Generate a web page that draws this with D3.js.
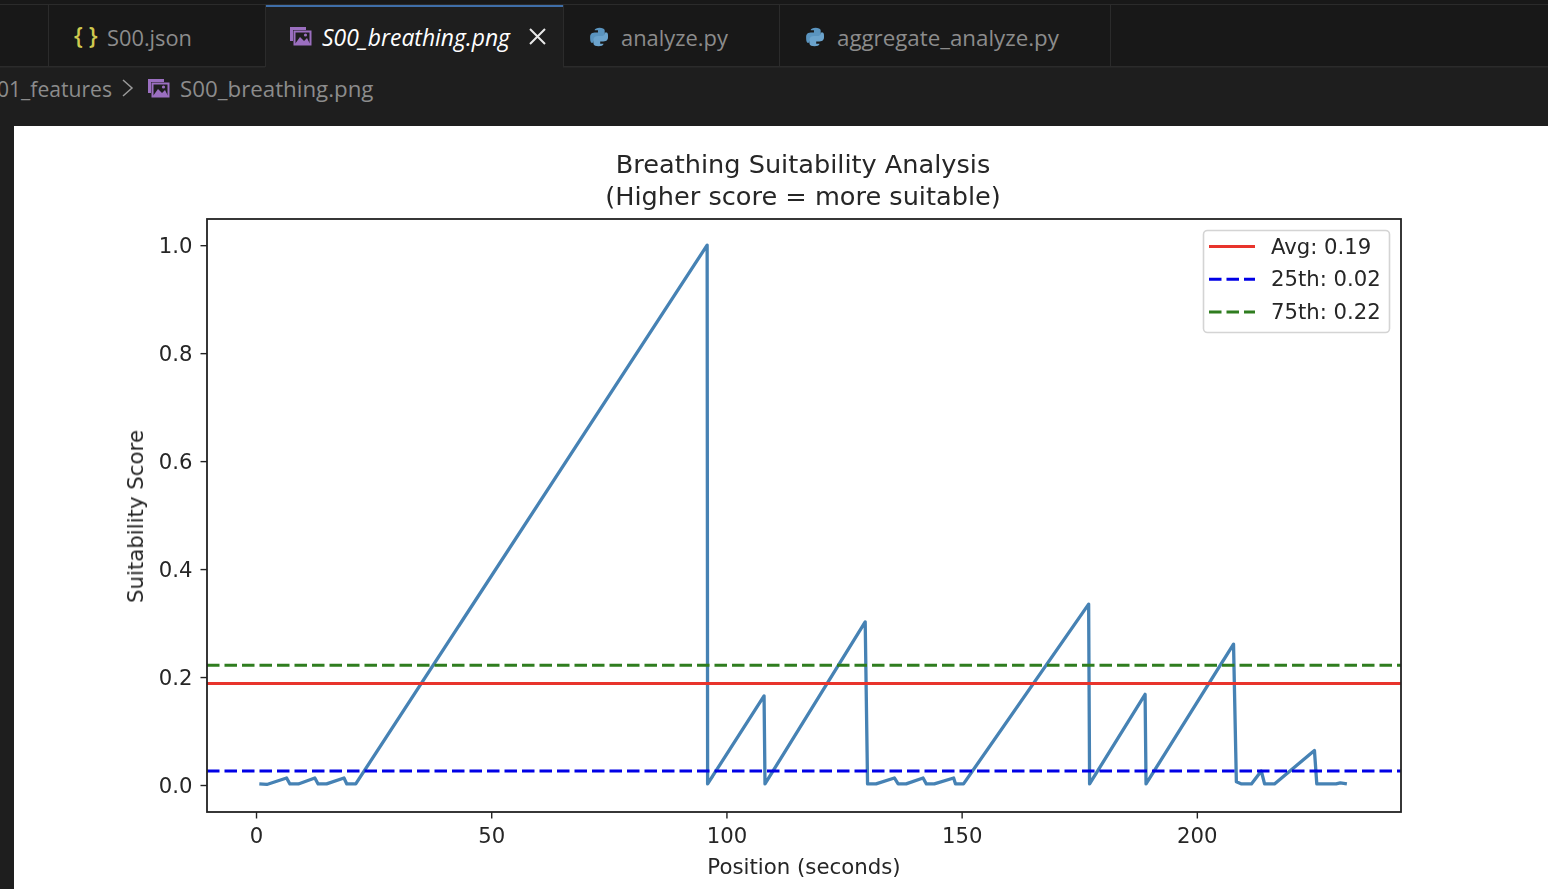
<!DOCTYPE html>
<html>
<head>
<meta charset="utf-8">
<script src="https://cdn.jsdelivr.net/npm/d3@7"></script>
<style>
  html, body { margin: 0; padding: 0; background: #1e1e1e; overflow: hidden; }
  svg { display: block; }
  .chrome { font-family: "Open Sans", "Noto Sans", sans-serif; }
  .plot { filter: blur(0.35px); }
  .plot text { font-family: "DejaVu Sans", sans-serif; fill: #262626; }
</style>
</head>
<body>
<div id="chart"></div>
<script>
// values
const positions = [0.7, 2.3, 6.5, 7.2, 9, 12.5, 13.2, 15, 18.7, 19.3, 21.2, 95.9, 96, 108, 108.2, 129.5, 130,
  131.8, 135.7, 136.5, 138.2, 141.8, 142.5, 144.2, 148.3, 148.7, 150.4, 177, 177.2, 189, 189.2, 207.8, 208.4,
  209.5, 211.6, 213.7, 214.4, 216.5, 225, 225.5, 229.6, 230.5, 231.9];
const scores = [0.002, 0.001, 0.013, 0.002, 0.002, 0.013, 0.002, 0.002, 0.013, 0.002, 0.002, 1.0, 0.002, 0.165, 0.002, 0.302, 0.002,
  0.002, 0.013, 0.002, 0.002, 0.013, 0.002, 0.002, 0.013, 0.002, 0.002, 0.335, 0.002, 0.168, 0.002, 0.261, 0.006,
  0.002, 0.002, 0.026, 0.002, 0.002, 0.064, 0.002, 0.002, 0.004, 0.002];
const xTicks = [0, 50, 100, 150, 200];
const yTicks = [0.0, 0.2, 0.4, 0.6, 0.8, 1.0];
const refValues = [0.188, 0.026, 0.222];
const refLabels = ["Avg: 0.19", "25th: 0.02", "75th: 0.22"];
const refColors = ["#e8342c", "#0000e6", "#2f7d1f"];
const refDashes = [null, "12.5,5", "12.5,5"];
const tabNames = ["S00.json", "S00_breathing.png", "analyze.py", "aggregate_analyze.py"];

const svg = d3.select("#chart").append("svg")
  .attr("width", 1548)
  .attr("height", 889);

// editor chrome around the image
const chrome = svg.append("g").attr("class", "chrome");
chrome.append("rect").attr("width", 1548).attr("height", 126).attr("fill", "#1e1e1e");
chrome.append("rect").attr("width", 1548).attr("height", 66).attr("y", 0).attr("fill", "#181818");
chrome.append("rect").attr("width", 1548).attr("height", 1).attr("y", 4).attr("fill", "#2b2b2b");
chrome.append("rect").attr("width", 1548).attr("height", 1.5).attr("y", 66).attr("fill", "#2b2b2b");
chrome.append("rect").attr("x", 265).attr("y", 5).attr("width", 298).attr("height", 63).attr("fill", "#1e1e1e");
chrome.append("rect").attr("x", 265).attr("y", 5).attr("width", 298).attr("height", 2).attr("fill", "#3f6ea8");
[48, 265, 563, 779, 1110].forEach(x => {
  chrome.append("rect").attr("x", x).attr("y", 5).attr("width", 1).attr("height", 62).attr("fill", "#2b2b2b");
});

chrome.append("text").attr("x", 74).attr("y", 44).attr("fill", "#cfc94f")
  .attr("font-size", 23).attr("font-weight", 600).text("{ }");
chrome.append("text").attr("x", 107).attr("y", 46).attr("fill", "#8c8c8c").attr("font-size", 21.8).text(tabNames[0]);
chrome.append("text").attr("x", 322).attr("y", 46).attr("fill", "#ffffff").attr("font-size", 22.9)
  .attr("font-style", "italic").text(tabNames[1]);
chrome.append("text").attr("x", 621).attr("y", 46).attr("fill", "#8c8c8c").attr("font-size", 21.9).text(tabNames[2]);
chrome.append("text").attr("x", 837).attr("y", 46).attr("fill", "#8c8c8c").attr("font-size", 22.3).text(tabNames[3]);
chrome.append("path").attr("d", "M530,29L545,44M545,29L530,44").attr("stroke", "#e8e8e8").attr("stroke-width", 2);

// image file icon
function imageIcon(x, y) {
  const g = chrome.append("g").attr("transform", `translate(${x},${y})`);
  g.append("path").attr("d", "M0,0H16V3H3V14H0Z").attr("fill", "#9b6fc0");
  g.append("rect").attr("x", 4.5).attr("y", 4.5).attr("width", 16).attr("height", 13)
    .attr("fill", "#1e1e1e").attr("stroke", "#9b6fc0").attr("stroke-width", 2);
  g.append("path").attr("d", "M5,17L10,10L14,14L17,11L20,17Z").attr("fill", "#9b6fc0");
  g.append("circle").attr("cx", 15.5).attr("cy", 8).attr("r", 1.6).attr("fill", "#9b6fc0");
}
imageIcon(290, 27);
imageIcon(148, 79);

// python icon
function pyIcon(x, y) {
  const g = chrome.append("g").attr("transform", `translate(${x},${y}) scale(1.12)`);
  g.append("path").attr("d", "M1,9C1,5 4,5 8,5V3H5C5,0 14,0 14,3V8C14,10 12,11 10,11H6C5,11 4,12 4,14H2C1,13 1,11 1,9Z").attr("fill", "#5a94bf");
  g.append("path").attr("d", "M17,9C17,13 14,13 10,13V15H13C13,18 4,18 4,15V11C4,9 6,8 8,8H12C13,8 14,7 14,5H16C17,6 17,7 17,9Z").attr("fill", "#6ba3cc");
}
pyIcon(589, 27);
pyIcon(805, 27);

chrome.append("text").attr("x", -3).attr("y", 97).attr("fill", "#8c8c8c").attr("font-size", 21.1).text("01_features");
chrome.append("path").attr("d", "M123,80L132,88L123,96").attr("fill", "none").attr("stroke", "#9a9a9a").attr("stroke-width", 1.5);
chrome.append("text").attr("x", 180).attr("y", 97).attr("fill", "#8c8c8c").attr("font-size", 22.3).text(tabNames[1]);

// white image area
svg.append("rect").attr("x", 14).attr("y", 126).attr("width", 1534).attr("height", 763).attr("fill", "#fff");

// set the dimensions of the plot
const box = {left: 207, right: 1401, top: 219, bottom: 812};
const x = d3.scaleLinear().domain([-10.42, 243.4]).range([box.left, box.right]);
const y = d3.scaleLinear().domain([-0.05, 1.0485]).range([box.bottom, box.top]);

const plot = svg.append("g").attr("class", "plot");

const lineGen = d3.line().x((d, i) => x(positions[i])).y(d => y(d));
plot.append("path")
  .datum(scores)
  .attr("fill", "none")
  .attr("stroke", "#4682b4")
  .attr("stroke-width", 3.3)
  .attr("stroke-linejoin", "round")
  .attr("d", lineGen);

// reference lines
refValues.forEach((v, i) => {
  plot.append("line")
    .attr("x1", box.left).attr("x2", box.right)
    .attr("y1", y(v)).attr("y2", y(v))
    .attr("stroke", refColors[i])
    .attr("stroke-width", 3)
    .attr("stroke-dasharray", refDashes[i]);
});

// axes
const xAxis = plot.append("g")
  .attr("transform", `translate(0,${box.bottom})`)
  .call(d3.axisBottom(x).tickValues(xTicks).tickSize(6.5).tickPadding(9.5).tickFormat(d3.format("d")));
const yAxis = plot.append("g")
  .attr("transform", `translate(${box.left},0)`)
  .call(d3.axisLeft(y).tickValues(yTicks).tickSize(6.5).tickPadding(8).tickFormat(d3.format(".1f")));
[xAxis, yAxis].forEach(a => {
  a.select(".domain").remove();
  a.selectAll("line").attr("stroke", "#222").attr("stroke-width", 1.4);
  a.selectAll("text").attr("font-size", 21.2);
});
yAxis.selectAll("text").attr("dy", "0.36em");

// frame
plot.append("rect")
  .attr("x", box.left).attr("y", box.top)
  .attr("width", box.right - box.left).attr("height", box.bottom - box.top)
  .attr("fill", "none").attr("stroke", "#222").attr("stroke-width", 1.8);

// titles
plot.append("text").attr("x", 803).attr("y", 173).attr("text-anchor", "middle").attr("font-size", 25.6)
  .text("Breathing Suitability Analysis");
plot.append("text").attr("x", 803).attr("y", 205).attr("text-anchor", "middle").attr("font-size", 25.6)
  .text("(Higher score = more suitable)");
plot.append("text").attr("x", 804).attr("y", 874).attr("text-anchor", "middle").attr("font-size", 21.3)
  .text("Position (seconds)");
plot.append("text").attr("transform", "translate(143,516.5) rotate(-90)").attr("text-anchor", "middle").attr("font-size", 21.3)
  .text("Suitability Score");

// legend
const legend = plot.append("g");
legend.append("rect").attr("x", 1203.5).attr("y", 230.5).attr("width", 186).attr("height", 102).attr("rx", 4)
  .attr("fill", "#fff").attr("stroke", "#d4d4d4").attr("stroke-width", 1.6);
refLabels.forEach((label, i) => {
  const ly = 246.5 + i * 32.8;
  legend.append("line").attr("x1", 1209).attr("x2", 1255).attr("y1", ly).attr("y2", ly)
    .attr("stroke", refColors[i]).attr("stroke-width", 3).attr("stroke-dasharray", refDashes[i]);
  legend.append("text").attr("x", 1271).attr("y", ly + 7).attr("font-size", 21.2).text(label);
});
</script>
</body>
</html>
